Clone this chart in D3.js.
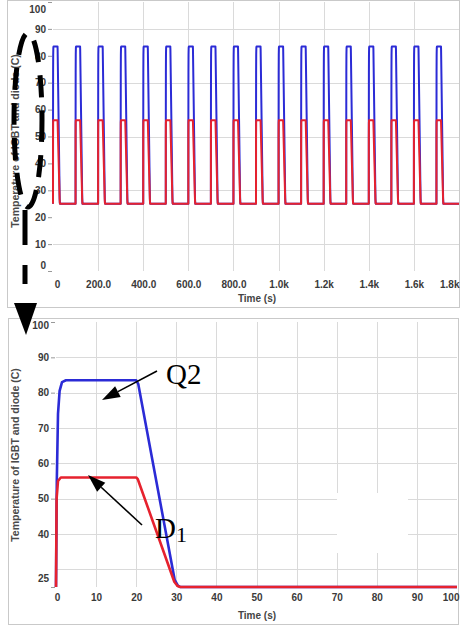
<!DOCTYPE html>
<html>
<head>
<meta charset="utf-8">
<script src="https://cdn.jsdelivr.net/npm/d3@7"></script>
<style>
  body { margin: 0; background: #fff; }
  svg { display: block; }
</style>
</head>
<body>
<svg id="chart" width="460" height="630"></svg>
<script>
// ---- values ----
// one load cycle (bottom panel): time (s) and temperature (C)
const q2Time = [0, 0.2, 0.5, 0.9, 1.5, 2.5, 20, 20.5, 29.6, 30.4, 31, 100];
const q2Temp = [25, 55, 74, 80.5, 83, 83.5, 83.5, 82.5, 27, 25.4, 25, 25];
const d1Time = [0, 0.15, 0.5, 1.2, 20, 20.4, 29.5, 30.3, 31, 100];
const d1Temp = [25, 50, 55, 56, 56, 55.5, 26.5, 25.3, 25, 25];

// start of each load cycle in the long run (top panel)
const cycleStarts = [0, 100, 200, 300, 400, 500, 600, 700, 800, 900,
                     1000, 1100, 1200, 1300, 1400, 1500, 1600, 1700];

// axes
const topYTicks = [0, 10, 20, 30, 40, 50, 60, 70, 80, 90, 100];
const topYGrid = [10, 30, 50, 70, 90];
const topXTicks = [0, 200, 400, 600, 800, 1000, 1200, 1400, 1600, 1800];
const topXLabels = ["0", "200.0", "400.0", "600.0", "800.0", "1.0k", "1.2k", "1.4k", "1.6k", "1.8k"];
const topXGrid = [200, 400, 600, 800, 1000, 1200, 1400, 1600];

const botYTicks = [25, 40, 50, 60, 70, 80, 90, 100];
const botYGrid = [30, 40, 50, 60, 70, 80, 90];
const botXTicks = [0, 10, 20, 30, 40, 50, 60, 70, 80, 90, 100];
const botXGrid = [10, 20, 30, 40, 50, 60, 70, 80, 90];

const yTitle = "Temperature of IGBT and diode (C)";
const xTitle = "Time (s)";

const blue = "#2b2bd6";
const red = "#e6222e";
const gridColor = "#dadada";
const font = "Liberation Sans, Arial, sans-serif";

const svg = d3.select("#chart");

// series for one cycle and for the repeated run
const q2 = q2Time.map((t, i) => ({ t: t, v: q2Temp[i] }));
const d1 = d1Time.map((t, i) => ({ t: t, v: d1Temp[i] }));
const q2Run = cycleStarts.flatMap(s => q2.map(d => ({ t: s + d.t, v: d.v })));
const d1Run = cycleStarts.flatMap(s => d1.map(d => ({ t: s + d.t, v: d.v })));

function drawPanel(p) {
    const g = svg.append("g");

    // frame
    g.append("rect")
        .attr("x", p.frame[0] + 0.5).attr("y", p.frame[1] + 0.5)
        .attr("width", p.frame[2]).attr("height", p.frame[3])
        .attr("fill", "#fff").attr("stroke", "#c9c9c9");

    // grid
    g.selectAll(".hgrid")
        .data(p.yGrid)
        .join("line")
        .attr("x1", p.x.range()[0]).attr("x2", p.x.range()[1])
        .attr("y1", d => Math.round(p.y(d)) + 0.5).attr("y2", d => Math.round(p.y(d)) + 0.5)
        .attr("stroke", gridColor);

    g.selectAll(".vgrid")
        .data(p.xGrid)
        .join("line")
        .attr("x1", d => Math.round(p.x(d)) + 0.5).attr("x2", d => Math.round(p.x(d)) + 0.5)
        .attr("y1", p.y.range()[1]).attr("y2", p.y.range()[0])
        .attr("stroke", gridColor);

    // axes
    const yAxis = d3.axisLeft(p.y).tickValues(p.yTicks).tickSize(4).tickPadding(2)
        .tickFormat(d3.format("d"));
    g.append("g")
        .attr("transform", `translate(${p.x.range()[0] - 1},0)`)
        .call(yAxis)
        .call(a => a.select(".domain").remove())
        .call(a => a.selectAll(".tick line").attr("stroke", "#999"))
        .call(a => a.selectAll("text")
            .attr("font-family", font).attr("font-weight", "bold")
            .attr("font-size", 10).attr("fill", "#3a3a3a"))
        .call(a => a.selectAll(".tick").filter((d, i) => i === 0).select("text").attr("dy", p.yLowShift))
        .call(a => a.selectAll(".tick").filter((d, i, n) => i === n.length - 1).select("text").attr("dy", p.yHighShift));

    const xAxis = d3.axisBottom(p.x).tickValues(p.xTicks).tickSize(0).tickPadding(p.xPad)
        .tickFormat((d, i) => p.xLabels[i]);
    g.append("g")
        .attr("transform", `translate(0,${p.y.range()[0]})`)
        .call(xAxis)
        .call(a => a.select(".domain").remove())
        .call(a => a.selectAll("text")
            .attr("font-family", font).attr("font-weight", "bold")
            .attr("font-size", 10).attr("fill", "#3a3a3a"))
        .call(a => a.selectAll(".tick").filter((d, i) => i === 0).select("text").attr("dx", p.xLowShift))
        .call(a => a.selectAll(".tick").filter((d, i, n) => i === n.length - 1).select("text")
            .attr("text-anchor", "end").attr("dx", p.xHighShift));

    // titles
    g.append("text")
        .attr("x", p.xTitlePos[0]).attr("y", p.xTitlePos[1])
        .attr("text-anchor", "middle")
        .attr("font-family", font).attr("font-weight", "bold")
        .attr("font-size", 10).attr("fill", "#444")
        .text(xTitle);

    g.append("text")
        .attr("transform", `translate(${p.yTitlePos[0]},${p.yTitlePos[1]}) rotate(-90)`)
        .attr("text-anchor", "middle")
        .attr("font-family", font).attr("font-weight", "bold")
        .attr("font-size", 10.5).attr("fill", "#4a4a4a")
        .text(yTitle);

    // curves
    const line = d3.line().x(d => p.x(d.t)).y(d => p.y(d.v));
    g.append("path").datum(p.q2)
        .attr("d", line).attr("fill", "none")
        .attr("stroke", blue).attr("stroke-width", p.lw).attr("stroke-linejoin", "round");
    g.append("path").datum(p.d1)
        .attr("d", line).attr("fill", "none")
        .attr("stroke", red).attr("stroke-width", p.lw).attr("stroke-linejoin", "round");

    return g;
}

// ---- top panel: whole run ----
drawPanel({
    frame: [7, 0, 452, 307],
    x: d3.scaleLinear().domain([0, 1800]).range([53, 459]),
    y: d3.scaleLinear().domain([0, 100]).range([271, 2]),
    yTicks: topYTicks, yGrid: topYGrid,
    xTicks: topXTicks, xLabels: topXLabels, xGrid: topXGrid,
    xPad: 10, yLowShift: "-0.3em", yHighShift: "1.0em",
    xLowShift: 4, xHighShift: 0,
    xTitlePos: [257, 302], yTitlePos: [19, 141],
    q2: q2Run, d1: d1Run, lw: 2
});

// ---- bottom panel: one cycle ----
const bottom = drawPanel({
    frame: [8, 318, 450, 306],
    x: d3.scaleLinear().domain([0, 100]).range([56, 457]),
    y: d3.scaleLinear().domain([25, 100]).range([587, 322]),
    yTicks: botYTicks, yGrid: botYGrid,
    xTicks: botXTicks, xLabels: botXTicks.map(String), xGrid: botXGrid,
    xPad: 7, yLowShift: "-0.6em", yHighShift: "0.62em",
    xLowShift: 1, xHighShift: 2,
    xTitlePos: [257, 619], yTitlePos: [19, 455],
    q2: q2, d1: d1, lw: 2.6
});

// blank box over the grid (hidden legend)
bottom.append("rect")
    .attr("x", 337).attr("y", 493).attr("width", 71).attr("height", 60)
    .attr("fill", "#fff");

// ---- annotations ----
const ann = svg.append("g");

// dashed loop around the top panel's axis, with arrow down to the bottom panel
ann.append("ellipse")
    .attr("cx", 28).attr("cy", 120).attr("rx", 14).attr("ry", 87)
    .attr("fill", "none").attr("stroke", "#000").attr("stroke-width", 5)
    .attr("stroke-dasharray", "22 13");
ann.append("line")
    .attr("x1", 25).attr("x2", 25).attr("y1", 210).attr("y2", 284)
    .attr("stroke", "#000").attr("stroke-width", 5)
    .attr("stroke-dasharray", "35 20");
ann.append("path")
    .attr("d", "M14,303 L37,303 L26,335 Z")
    .attr("fill", "#000");

function arrow(x1, y1, x2, y2, len, half) {
    const a = Math.atan2(y2 - y1, x2 - x1);
    const bx = x2 - len * Math.cos(a), by = y2 - len * Math.sin(a);
    ann.append("line")
        .attr("x1", x1).attr("y1", y1).attr("x2", bx).attr("y2", by)
        .attr("stroke", "#000").attr("stroke-width", 1.6);
    const px = -Math.sin(a) * half, py = Math.cos(a) * half;
    ann.append("path")
        .attr("d", `M${x2},${y2} L${bx + px},${by + py} L${bx - px},${by - py} Z`)
        .attr("fill", "#000");
}

arrow(157, 371, 102, 400, 18, 6);
arrow(142, 525, 88, 475, 18, 6);

const serif = "Liberation Serif, Times New Roman, serif";
ann.append("text")
    .attr("x", 166).attr("y", 384)
    .attr("font-family", serif).attr("font-size", 29).attr("fill", "#000")
    .text("Q2");

const dText = ann.append("text")
    .attr("x", 155).attr("y", 538)
    .attr("font-family", serif).attr("font-size", 29).attr("fill", "#000");
dText.append("tspan").text("D");
dText.append("tspan").attr("font-size", 22).attr("dy", 4).text("1");
</script>
</body>
</html>
